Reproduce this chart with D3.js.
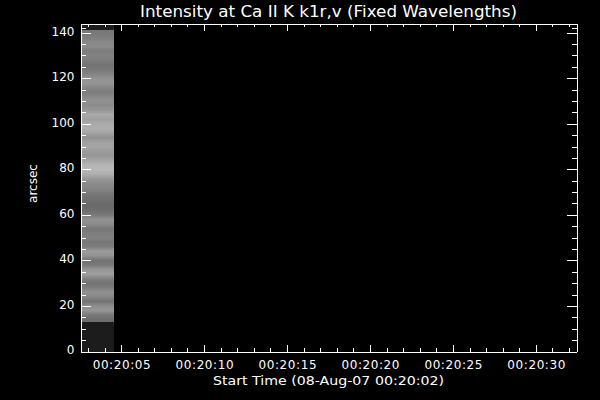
<!DOCTYPE html>
<html><head><meta charset="utf-8">
<script src="https://cdn.jsdelivr.net/npm/d3@7"></script>
<style>html,body{margin:0;padding:0;background:#000;}svg{display:block;}</style>
</head><body>
<script>
// ---- data ----
const titleText = "Intensity at Ca II K k1r,v (Fixed Wavelengths)";
const xLabelText = "Start Time (08-Aug-07 00:20:02)";
const yLabelText = "arcsec";
const timeDomain = [2.55, 32.45];          // seconds after 00:20:00
const xMajorTicks = [5, 10, 15, 20, 25, 30];
const xMinorTicks = [3,4,6,7,8,9,11,12,13,14,16,17,18,19,21,22,23,24,26,27,28,29,31,32];
const yDomain = [0, 144];
const yMajorTicks = [0, 20, 40, 60, 80, 100, 120, 140];
const yMinorTicks = [5,10,15,25,30,35,45,50,55,65,70,75,85,90,95,105,110,115,125,130,135,142];
// image strip: time extent and arcsec rows
const imageTime = [2.55, 4.57];
const rowStart = 13, rowStep = 2;
const rowIntensity = [110,120,150,140,115,135,145,125,115,130,160,150,120,115,145,155,
  125,120,130,125,120,140,145,120,110,105,110,115,125,135,140,155,
  175,185,180,165,150,155,165,160,145,165,175,170,160,170,150,140,
  145,135,125,135,150,145,130,120,115,125,130,125,140,135,125,120];
const emptyRows = [[0, 13], [141, 144]];
const emptyGray = 28;

// ---- layout ----
const W = 600, H = 400;
const svg = d3.select("body").append("svg").attr("width", W).attr("height", H)
  .style("background", "#000");
const x = d3.scaleLinear().domain(timeDomain).range([80.5, 576.5]);
const y = d3.scaleLinear().domain(yDomain).range([351.5, 23.5]);
const font = "'DejaVu Sans', sans-serif";
const fmt = s => "00:20:" + String(s).padStart(2, "0");

// image
const img = svg.append("g").attr("shape-rendering", "crispEdges");
img.selectAll("rect.e").data(emptyRows).enter().append("rect")
  .attr("x", x(imageTime[0])).attr("width", x(imageTime[1]) - x(imageTime[0]))
  .attr("y", d => y(d[1])).attr("height", d => y(d[0]) - y(d[1]))
  .attr("fill", d3.rgb(emptyGray, emptyGray, emptyGray));
const rowTop = rowStart + rowStep * rowIntensity.length;
const grad = svg.append("defs").append("linearGradient").attr("id", "strip")
  .attr("gradientUnits", "userSpaceOnUse")
  .attr("x1", 0).attr("x2", 0).attr("y1", y(rowStart)).attr("y2", y(rowTop));
grad.selectAll("stop").data(rowIntensity).enter().append("stop")
  .attr("offset", (d, i) => (i + 0.5) / rowIntensity.length)
  .attr("stop-color", d => d3.rgb(d, d, d));
img.append("rect")
  .attr("x", x(imageTime[0])).attr("width", x(imageTime[1]) - x(imageTime[0]))
  .attr("y", y(rowTop)).attr("height", y(rowStart) - y(rowTop))
  .attr("fill", "url(#strip)");

// axes
function styleAxis(g) {
  g.selectAll("path,line").attr("stroke", "#fff").attr("stroke-width", 1);
  g.attr("shape-rendering", "crispEdges");
  g.selectAll("text").attr("fill", "#fff").style("font-family", font).style("font-size", "12px");
}
const bottom = svg.append("g").attr("transform", `translate(0,${y.range()[0]})`)
  .call(d3.axisBottom(x).tickValues(xMajorTicks).tickFormat(fmt).tickSize(-7).tickSizeOuter(0).tickPadding(9))
  .call(styleAxis);
bottom.selectAll("text").attr("textLength", 58).attr("lengthAdjust", "spacing");
svg.append("g").attr("transform", `translate(0,${y.range()[0]})`)
  .call(d3.axisBottom(x).tickValues(xMinorTicks).tickFormat("").tickSize(-3.5).tickSizeOuter(0))
  .call(styleAxis);
svg.append("g").attr("transform", `translate(0,${y.range()[1]})`)
  .call(d3.axisTop(x).tickValues(xMajorTicks).tickFormat("").tickSize(-7).tickSizeOuter(0))
  .call(styleAxis);
svg.append("g").attr("transform", `translate(0,${y.range()[1]})`)
  .call(d3.axisTop(x).tickValues(xMinorTicks).tickFormat("").tickSize(-3.5).tickSizeOuter(0))
  .call(styleAxis);
const left = svg.append("g").attr("transform", `translate(${x.range()[0]},0)`)
  .call(d3.axisLeft(y).tickValues(yMajorTicks).tickFormat(d3.format("d")).tickSize(-10).tickSizeOuter(0).tickPadding(6))
  .call(styleAxis);
left.selectAll("text").attr("dy", "0.2em");
svg.append("g").attr("transform", `translate(${x.range()[0]},0)`)
  .call(d3.axisLeft(y).tickValues(yMinorTicks).tickFormat("").tickSize(-5).tickSizeOuter(0))
  .call(styleAxis);
svg.append("g").attr("transform", `translate(${x.range()[1]},0)`)
  .call(d3.axisRight(y).tickValues(yMajorTicks).tickFormat("").tickSize(-10).tickSizeOuter(0))
  .call(styleAxis);
svg.append("g").attr("transform", `translate(${x.range()[1]},0)`)
  .call(d3.axisRight(y).tickValues(yMinorTicks).tickFormat("").tickSize(-5).tickSizeOuter(0))
  .call(styleAxis);

// titles
const cx = (x.range()[0] + x.range()[1]) / 2;
svg.append("text").attr("x", cx).attr("y", 16.5).attr("text-anchor", "middle")
  .attr("fill", "#fff").style("font-family", font).style("font-size", "16px")
  .attr("textLength", 377).attr("lengthAdjust", "spacingAndGlyphs").text(titleText);
svg.append("text").attr("x", cx).attr("y", 385).attr("text-anchor", "middle")
  .attr("fill", "#fff").style("font-family", font).style("font-size", "13px")
  .attr("textLength", 231).attr("lengthAdjust", "spacingAndGlyphs").text(xLabelText);
svg.append("text").attr("transform", `translate(37,${(y.range()[0] + y.range()[1]) / 2 - 4}) rotate(-90)`)
  .attr("text-anchor", "middle").attr("fill", "#fff")
  .style("font-family", font).style("font-size", "12px").text(yLabelText);
</script>
</body></html>
